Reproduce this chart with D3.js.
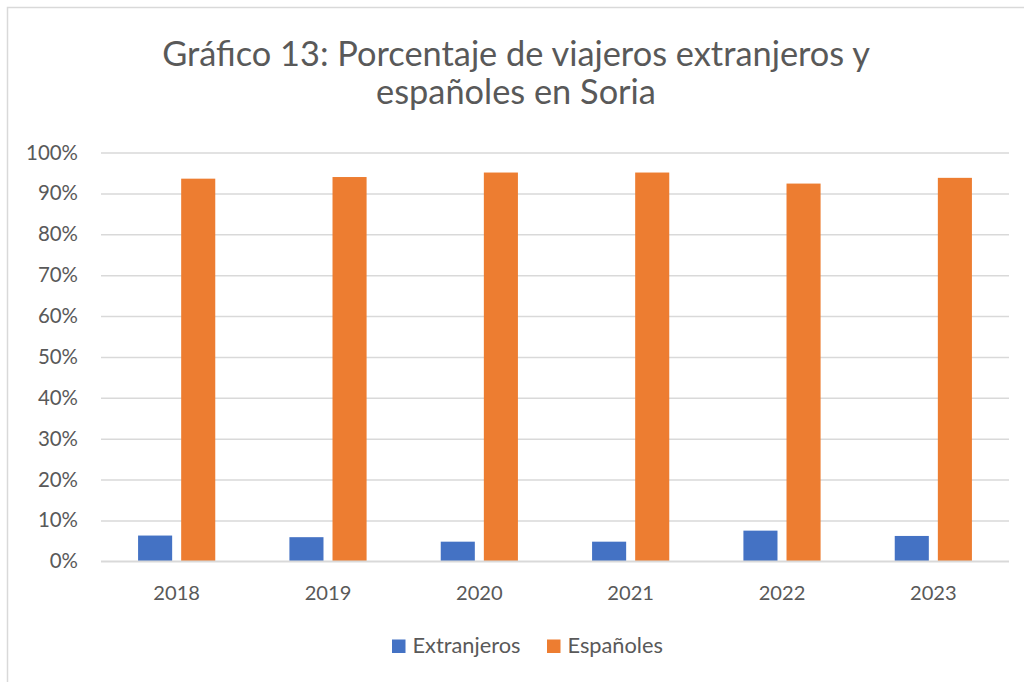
<!DOCTYPE html>
<html>
<head>
<meta charset="utf-8">
<script src="https://cdn.jsdelivr.net/npm/d3@7"></script>
<style>
html,body{margin:0;padding:0;background:#fff;}
svg{display:block;font-family:Lato,"Open Sans",sans-serif;}
</style>
</head>
<body>
<svg id="chart" width="1024" height="682"></svg>
<script>
const years = ["2018","2019","2020","2021","2022","2023"];
const seriesNames = ["Extranjeros","Españoles"];
const extranjeros = [6.3, 5.9, 4.8, 4.8, 7.5, 6.2];
const espanoles = [93.6, 94.0, 95.1, 95.1, 92.4, 93.8];
const yTicks = [0,10,20,30,40,50,60,70,80,90,100];
const titleLines = ["Gráfico 13: Porcentaje de viajeros extranjeros y","españoles en Soria"];
const colors = ["#4472C4","#ED7D31"];

const svg = d3.select("#chart");
const textColor = "#595959";
const gridColor = "#d9d9d9";

// chart border
svg.append("rect").attr("x",7.5).attr("y",7.5).attr("width",1030).attr("height",700)
  .attr("fill","#fff").attr("stroke",gridColor).attr("stroke-width",1.5);

const margin = {left:101, right:1009, top:152.5, bottom:561.3};

const x0 = d3.scaleBand().domain(years).range([margin.left, margin.right]).paddingInner(0.49).paddingOuter(0.245);
const x1 = d3.scaleBand().domain(seriesNames).range([0, x0.bandwidth()]).paddingInner(9/43).paddingOuter(0);
const y = d3.scaleLinear().domain([0,100]).range([margin.bottom, margin.top]);

function fit(sel, target){
  sel.each(function(){
    const w = this.getComputedTextLength();
    const fs = parseFloat(d3.select(this).attr("font-size"));
    d3.select(this).attr("font-size", (fs*target/w).toFixed(2));
  });
}

// grid lines
const yAxis = d3.axisLeft(y).tickValues(yTicks).tickSize(-(margin.right-margin.left)).tickPadding(23).tickFormat(d=>d+"%");
const gy = svg.append("g").attr("transform",`translate(${margin.left},0)`).call(yAxis);
gy.select(".domain").remove();
gy.selectAll(".tick line").attr("stroke",gridColor).attr("stroke-width",1.5);
gy.selectAll(".tick text").attr("fill",textColor).attr("font-size",20).attr("font-family","Lato, sans-serif");
fit(gy.selectAll(".tick text").filter(d=>d===100), 52);
const yfs = gy.selectAll(".tick text").filter(d=>d===100).attr("font-size");
gy.selectAll(".tick text").attr("font-size", yfs);

// bars
const data = years.map((yr,i)=>({year:yr, vals:[extranjeros[i], espanoles[i]]}));
const groups = svg.append("g").selectAll("g").data(data).join("g")
  .attr("transform",d=>`translate(${x0(d.year)},0)`);
groups.selectAll("rect").data(d=>d.vals.map((v,j)=>({name:seriesNames[j], v, j}))).join("rect")
  .attr("x",d=>x1(d.name)).attr("width",x1.bandwidth())
  .attr("y",d=>y(d.v)).attr("height",d=>y(0)-y(d.v))
  .attr("fill",d=>colors[d.j]);

// baseline redraw on top
svg.append("line").attr("x1",margin.left).attr("x2",margin.right).attr("y1",y(0)).attr("y2",y(0))
  .attr("stroke",gridColor).attr("stroke-width",1.5);

// x axis labels
const xAxis = d3.axisBottom(x0).tickSize(0).tickPadding(0);
const gx = svg.append("g").attr("transform",`translate(0,${y(0)})`).call(xAxis);
gx.select(".domain").remove();
gx.selectAll(".tick text").attr("fill",textColor).attr("font-size",20).attr("font-family","Lato, sans-serif")
  .attr("dy",null).attr("y",38.7);
fit(gx.selectAll(".tick text").filter(d=>d==="2018"), 46.7);
const xfs = gx.selectAll(".tick text").filter(d=>d==="2018").attr("font-size");
gx.selectAll(".tick text").attr("font-size", xfs);

// title
const title = svg.append("g");
const tl = title.selectAll("text").data(titleLines).join("text")
  .attr("x",516).attr("y",(d,i)=>65.5+i*38).attr("text-anchor","middle")
  .attr("fill",textColor).attr("font-size",32).text(d=>d);
fit(tl.filter((d,i)=>i===0), 708);
tl.filter((d,i)=>i===1).attr("font-size", tl.filter((d,i)=>i===0).attr("font-size"));

// legend
const legendX = [392, 547];
const leg = svg.append("g").selectAll("g").data(seriesNames).join("g")
  .attr("transform",(d,i)=>`translate(${legendX[i]},0)`);
leg.append("rect").attr("x",0).attr("y",639.5).attr("width",13.5).attr("height",13.5).attr("fill",(d,i)=>colors[i]);
const lt = leg.append("text").attr("x",20.5).attr("y",653).attr("fill",textColor).attr("font-size",20).text(d=>d);
fit(lt.filter((d,i)=>i===0), 108);
lt.attr("font-size", lt.filter((d,i)=>i===0).attr("font-size"));
</script>
</body>
</html>
